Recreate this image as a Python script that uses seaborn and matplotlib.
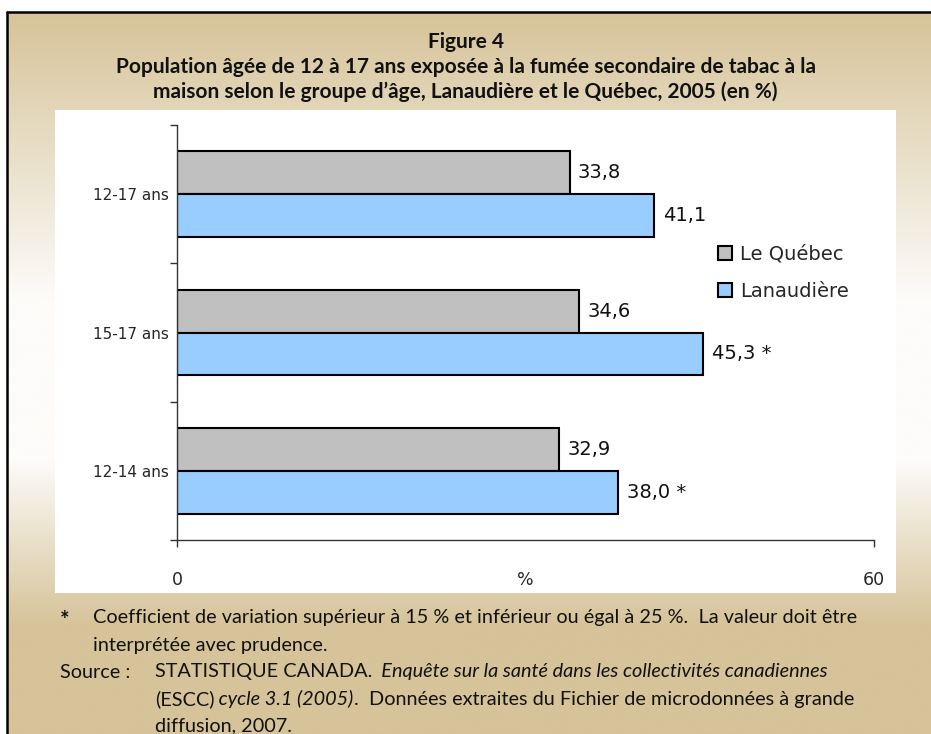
import numpy as np
import pandas as pd
import matplotlib
matplotlib.use("Agg")
import matplotlib.pyplot as plt
import seaborn as sns
from matplotlib.patches import Rectangle
from matplotlib.colors import LinearSegmentedColormap

# donnees de la figure
groupes = ["12-17 ans", "15-17 ans", "12-14 ans"]
regions = ["Le Québec", "Lanaudière"]
quebec = [33.8, 34.6, 32.9]
lanaudiere = [41.1, 45.3, 38.0]
quebec_notes = ["", "", ""]
lanaudiere_notes = ["", " *", " *"]
x_ticks = [0, 60]

df = pd.DataFrame({
    "groupe": groupes * 2,
    "region": [regions[0]] * 3 + [regions[1]] * 3,
    "pct": quebec + lanaudiere,
})

sns.set_style("ticks")
plt.rcParams['font.family'] = ['DejaVu Sans']

W, H = 931, 734
fig = plt.figure(figsize=(W / 100, H / 100), dpi=100, facecolor='white')

# fond degrade + cadre
bg = fig.add_axes([0, 0, 1, 1], zorder=0)
fond = LinearSegmentedColormap.from_list('fond', [
    (0, '#D6C399'), (0.40, '#FDFCFA'), (0.62, '#FDFCFA'), (0.85, '#D6C399'), (1, '#D6C399')])
g = np.linspace(0, 1, 256).reshape(-1, 1)
bg.imshow(g, cmap=fond, aspect='auto', extent=[7, W, H, 12], interpolation='bilinear')
bg.plot([7, 7], [12, H], color='black', lw=1.8)
bg.plot([7, W], [12, 12], color='black', lw=1.8)
bg.add_patch(Rectangle((55, 110), 841, 483, facecolor='white', edgecolor='none'))
bg.set_xlim(0, W)
bg.set_ylim(H, 0)
bg.axis('off')

# graphique
ax = fig.add_axes([177 / W, 1 - 540 / H, 697 / W, 415 / H], zorder=1)
sns.barplot(data=df, x='pct', y='groupe', hue='region', order=groupes, hue_order=regions,
            palette=['#C0C0C0', '#99CCFF'], saturation=1, width=0.62, errorbar=None,
            edgecolor='black', linewidth=1.5, orient='h', ax=ax)

for cont, vals, notes in zip(ax.containers, [quebec, lanaudiere], [quebec_notes, lanaudiere_notes]):
    labels = [f"{v:.1f}".replace('.', ',') + n for v, n in zip(vals, notes)]
    ax.bar_label(cont, labels=labels, padding=6, fontsize=14, color='#111111')

ax.set_xlim(0, 60)
ax.set_ylim(2.5, -0.5)
sns.despine(ax=ax)
for s in ['left', 'bottom']:
    ax.spines[s].set_color('#333333')
    ax.spines[s].set_linewidth(1)

ax.set_xticks(x_ticks)
ax.tick_params(axis='x', length=5, width=1, color='#333333', pad=17, labelsize=12.5)
ax.set_yticks([-0.5, 0.5, 1.5, 2.5], minor=True)
ax.tick_params(axis='y', which='major', length=0, pad=6, labelsize=11)
ax.tick_params(axis='y', which='minor', left=True, length=5, width=1, color='#333333')
ax.set_ylabel('')
ax.set_xlabel('%', fontsize=12.5)
ax.xaxis.set_label_coords(0.5, -0.075)

ax.legend(loc='upper left', bbox_to_anchor=(0.776, 0.712), frameon=False, fontsize=14,
          handlelength=0.75, handleheight=0.75, handletextpad=0.4, labelspacing=0.95,
          borderpad=0, borderaxespad=0)

# titre
titre = ["Figure 4",
         "Population âgée de 12 à 17 ans exposée à la fumée secondaire de tabac à la",
         "maison selon le groupe d\u2019âge, Lanaudière et le Québec, 2005 (en %)"]
for txt, y in zip(titre, [42, 67, 92]):
    fig.text(0.5, 1 - y / H, txt, ha='center', va='center', fontsize=15,
             fontweight='bold', family='Lato', color='#111111')

# notes
renderer = fig.canvas.get_renderer()


def ligne(x, y, segments, size=14.3, weight='normal'):
    for texte, style in segments:
        t = fig.text(x / W, 1 - y / H, texte, ha='left', va='center', fontsize=size,
                     family='Lato', style=style, fontweight=weight, color='#111111')
        x += t.get_window_extent(renderer).width


ligne(60, 621, [("*", 'normal')], size=16, weight='bold')
ligne(93, 618, [("Coefficient de variation supérieur à 15 % et inférieur ou égal à 25 %.  La valeur doit être", 'normal')])
ligne(93, 645, [("interprétée avec prudence.", 'normal')])
ligne(60, 672, [("Source :", 'normal')])
ligne(155, 672, [("STATISTIQUE CANADA.", 'normal'),
                 ("  Enquête sur la santé dans les collectivités canadiennes", 'italic')])
ligne(155, 699, [("(ESCC)", 'normal'), (" cycle 3.1 (2005)", 'italic'),
                 (".  Données extraites du Fichier de microdonnées à grande", 'normal')])
ligne(155, 726, [("diffusion, 2007.", 'normal')])

fig.savefig("out.png", dpi=100, facecolor='white')
